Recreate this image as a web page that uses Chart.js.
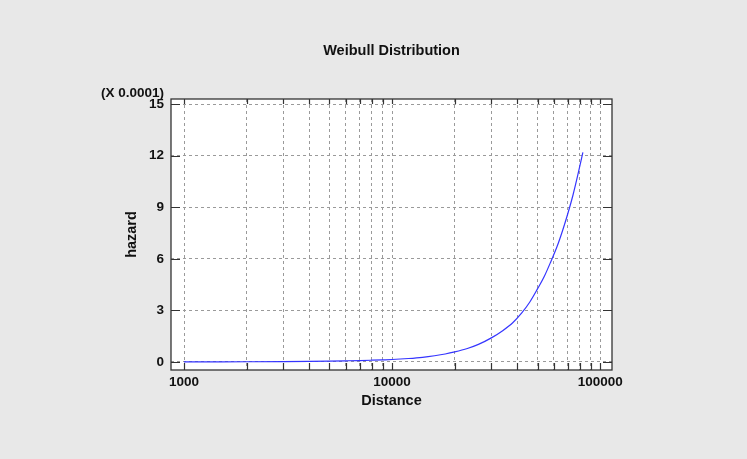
<!DOCTYPE html>
<html>
<head>
<meta charset="utf-8">
<script src="https://cdn.jsdelivr.net/npm/chart.js@4/dist/chart.umd.min.js"></script>
<style>
  html, body { margin: 0; padding: 0; background: #e8e8e8; }
  canvas { display: block; }
</style>
</head>
<body>
<canvas id="weibull" width="747" height="459"></canvas>
<script>
// values, hazard in units of 0.0001
const distance = [1000, 1500, 2000, 3000, 4000, 5000, 6000, 7000, 8000, 9000, 10000,
    12000, 14000, 16000, 18000, 20000, 23000, 26000, 30000, 34000, 38000, 42000,
    46000, 50000, 54000, 58000, 62000, 66000, 70000, 74000, 78000, 82600];
const hazard = [0.002, 0.005, 0.009, 0.02, 0.035, 0.05, 0.065, 0.08, 0.1, 0.12, 0.14,
    0.2, 0.27, 0.36, 0.46, 0.58, 0.78, 1.02, 1.4, 1.82, 2.28, 2.85,
    3.5, 4.25, 5.0, 5.85, 6.7, 7.65, 8.65, 9.7, 10.85, 12.2];
const yTicks = [0, 3, 6, 9, 12, 15];
const xTicks = [1000, 2000, 3000, 4000, 5000, 6000, 7000, 8000, 9000,
    10000, 20000, 30000, 40000, 50000, 60000, 70000, 80000, 90000, 100000];
const xLabels = [1000, 10000, 100000];

const boldFont = 'Liberation Sans, Arial, sans-serif';

// background, white plot box, frame, inward tick marks and the extra texts
const framePlugin = {
    id: 'frame',
    beforeDraw(chart) {
        const {ctx, chartArea: a} = chart;
        ctx.save();
        ctx.fillStyle = '#e8e8e8';
        ctx.fillRect(0, 0, chart.width, chart.height);
        ctx.fillStyle = '#ffffff';
        ctx.fillRect(a.left, a.top, a.right - a.left, a.bottom - a.top);
        ctx.restore();
    },
    afterDraw(chart) {
        const {ctx, chartArea: a} = chart;
        const x = chart.scales.x;
        const y = chart.scales.y;
        ctx.save();
        ctx.strokeStyle = '#333333';
        ctx.lineWidth = 1.3;
        ctx.strokeRect(a.left, a.top, a.right - a.left, a.bottom - a.top);

        ctx.lineWidth = 1.2;
        ctx.beginPath();
        x.ticks.forEach(t => {
            const px = Math.round(x.getPixelForValue(t.value)) + 0.5;
            ctx.moveTo(px, a.bottom);
            ctx.lineTo(px, a.bottom - 7);
            ctx.moveTo(px, a.top);
            ctx.lineTo(px, a.top + 5);
        });
        y.ticks.forEach(t => {
            const py = Math.round(y.getPixelForValue(t.value)) + 0.5;
            ctx.moveTo(a.left, py);
            ctx.lineTo(a.left + 9, py);
            ctx.moveTo(a.right, py);
            ctx.lineTo(a.right - 9, py);
        });
        ctx.stroke();

        ctx.fillStyle = '#111111';
        ctx.textBaseline = 'middle';
        ctx.font = 'bold 14.5px ' + boldFont;
        ctx.textAlign = 'center';
        ctx.fillText('Weibull Distribution', (a.left + a.right) / 2, 51);
        ctx.font = 'bold 13.5px ' + boldFont;
        ctx.textAlign = 'right';
        ctx.fillText('(X 0.0001)', 164, 93);
        ctx.restore();
    }
};

new Chart(
    document.getElementById('weibull'),
    {
        type: 'line',
        plugins: [framePlugin],
        data: {
            datasets: [
                {
                    label: 'hazard',
                    data: distance.map((d, i) => ({x: d, y: hazard[i]})),
                    borderColor: '#3535ff',
                    borderWidth: 1.2,
                    pointRadius: 0,
                    cubicInterpolationMode: 'monotone',
                    fill: false,
                },
            ]
        },
        options: {
            responsive: false,
            animation: false,
            layout: {
                padding: {left: 0, right: 135, top: 99, bottom: 0}
            },
            plugins: {
                legend: {display: false},
                tooltip: {enabled: false},
                title: {display: false},
            },
            scales: {
                x: {
                    type: 'logarithmic',
                    min: 866,
                    max: 114000,
                    afterFit: s => { s.height = 89; },
                    afterBuildTicks: s => {
                        s.ticks = xTicks.map(v => ({value: v}));
                    },
                    ticks: {
                        autoSkip: false,
                        maxRotation: 0,
                        padding: 4,
                        color: '#111111',
                        font: {family: boldFont, size: 13.5, weight: 'bold'},
                        callback: v => xLabels.includes(v) ? String(v) : '',
                    },
                    grid: {color: '#9a9a9a', lineWidth: 1, drawTicks: false},
                    border: {display: false, dash: [3, 3]},
                    title: {
                        display: true,
                        text: 'Distance',
                        color: '#111111',
                        font: {family: boldFont, size: 14.5, weight: 'bold'},
                        padding: {top: 0, bottom: 49.5},
                    },
                },
                y: {
                    type: 'linear',
                    min: -0.47,
                    max: 15.3,
                    afterFit: s => { s.width = 171; },
                    afterBuildTicks: s => {
                        s.ticks = yTicks.map(v => ({value: v}));
                    },
                    ticks: {
                        padding: 7,
                        color: '#111111',
                        font: {family: boldFont, size: 13.5, weight: 'bold'},
                    },
                    grid: {color: '#9a9a9a', lineWidth: 1, drawTicks: false},
                    border: {display: false, dash: [3, 3]},
                    title: {
                        display: true,
                        text: 'hazard',
                        color: '#111111',
                        font: {family: boldFont, size: 14.5, weight: 'bold'},
                        padding: {top: 123, bottom: 0},
                    },
                },
            },
        },
    }
);
</script>
</body>
</html>
